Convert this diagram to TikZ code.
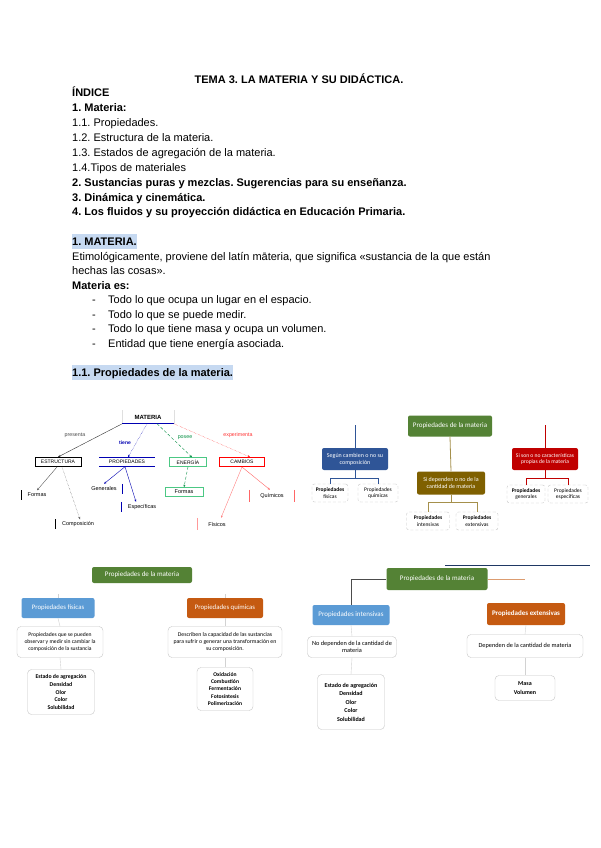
\documentclass[tikz,border=0pt]{standalone}
\usepackage{fontspec}
\setmainfont{Liberation Sans}
\newfontfamily\calfont{Carlito}
\usetikzlibrary{arrows.meta}
\frenchspacing
\definecolor{hl}{HTML}{C6D9F1}
\definecolor{grn}{HTML}{548235}
\definecolor{dblue}{HTML}{2F5597}
\definecolor{olive}{HTML}{7F6000}
\definecolor{dred}{HTML}{C00000}
\definecolor{lblue}{HTML}{5B9BD5}
\definecolor{orng}{HTML}{C55A11}
\definecolor{lgreen}{HTML}{00B050}
\definecolor{navy}{HTML}{1F3864}
\tikzset{
  txt/.style={anchor=base west, inner sep=0pt, font=\fontsize{11}{13}\selectfont},
  btxt/.style={txt, font=\bfseries\fontsize{11}{13}\selectfont},
  done/.style={inner sep=0pt, font=\fontsize{5}{6}\selectfont, fill=white},
  dkid/.style={inner sep=0pt, font=\fontsize{5.5}{6}\selectfont, fill=white},
  dlab/.style={inner sep=0pt, font=\fontsize{5.3}{6}\selectfont},
  cbox/.style={inner sep=1pt, rounded corners=2pt, text=white, align=center, font=\calfont\fontsize{6}{7}\selectfont},
  wbox/.style={inner sep=1pt, rounded corners=2.5pt, draw=gray!45, densely dashed, fill=white, align=center, font=\calfont\fontsize{5.5}{6.5}\selectfont},
  tbox/.style={inner sep=1pt, rounded corners=4pt, draw=gray!45, fill=white, align=center, font=\calfont\fontsize{6}{7}\selectfont},
  lbox/.style={inner sep=1pt, rounded corners=4pt, draw=gray!45, fill=white, align=center, font=\calfont\bfseries\fontsize{5.8}{7.6}\selectfont},
  arr/.style={-{Stealth[length=2.5pt,width=2pt]}, line width=0.4pt},
  faint/.style={draw=gray!35, line width=0.4pt},
}
\begin{document}
\begin{tikzpicture}[x=1pt,y=-1pt]
\useasboundingbox[fill=white] (0,0) rectangle (600,848);

% ---------------- header text ----------------
\node[anchor=base, inner sep=0pt, font=\bfseries\fontsize{11}{13}\selectfont] (title) at (299,84) {TEMA 3. LA MATERIA Y SU DIDÁCTICA.};
\node[btxt] (indice) at (72,97) {ÍNDICE};
\node[btxt] (l1) at (72,112) {1. Materia:};
\node[txt] (l11) at (72,126) {1.1. Propiedades.};
\node[txt] (l12) at (72,141) {1.2. Estructura de la materia.};
\node[txt] (l13) at (72,156) {1.3. Estados de agregación de la materia.};
\node[txt] (l14) at (72,171) {1.4.Tipos de materiales};
\node[btxt] (l2) at (72,186) {2. Sustancias puras y mezclas. Sugerencias para su enseñanza.};
\node[btxt] (l3) at (72,201) {3. Dinámica y cinemática.};
\node[btxt] (l4) at (72,215) {4. Los fluidos y su proyección didáctica en Educación Primaria.};

\fill[hl] (72,234) rectangle (137,249);
\node[btxt] (h1) at (72,245) {1. MATERIA.};
\node[txt] (p1) at (72,260) {Etimológicamente, proviene del latín māteria, que significa «sustancia de la que están};
\node[txt] (p2) at (72,274) {hechas las cosas».};
\node[btxt] (mes) at (72,289) {Materia es:};
\foreach \yy/\tt [count=\i] in {303/Todo lo que ocupa un lugar en el espacio.,318/Todo lo que se puede medir.,332/Todo lo que tiene masa y ocupa un volumen.,347/Entidad que tiene energía asociada.}{
  \node[txt] (dash\i) at (92,\yy) {-};
  \node[txt] (b\i) at (108,\yy) {\tt};
}
\fill[hl] (72,365) rectangle (233,380);
\node[btxt] (h11) at (72,376) {1.1. Propiedades de la materia.};

% ---------------- diagram 1 (top left) ----------------
\node[done, minimum width=51pt, minimum height=13pt, font=\bfseries\fontsize{6}{7}\selectfont] (mat) at (148,417) {MATERIA};
\draw[gray!25] (mat.north west) -- (mat.south west) (mat.north east) -- (mat.south east);
\draw[blue!70!black, line width=0.7pt] (mat.south west) -- (mat.south east);

\node[done, draw=black, line width=1pt, minimum width=46pt, minimum height=9pt] (estr) at (58,462) {ESTRUCTURA};
\node[done, minimum width=55pt, minimum height=9pt] (prop) at (127,462) {PROPIEDADES};
\draw[blue!70!black, line width=0.7pt] (prop.north west) -- (prop.north east) (prop.south west) -- (prop.south east);
\node[done, draw=lgreen!70, line width=0.5pt, minimum width=37pt, minimum height=9pt] (ener) at (188,462) {ENERGÍA};
\node[done, draw=red, line width=1pt, minimum width=45pt, minimum height=9pt] (camb) at (242,462) {CAMBIOS};

\node[dkid, minimum width=30pt, minimum height=9pt] (formas) at (37,495) {Formas};
\draw[line width=1pt] (formas.north west) -- (formas.south west);
\node[dkid, minimum width=44pt, minimum height=9pt] (comp) at (78,524) {Composición};
\draw[line width=1pt] (comp.north west) -- (comp.south west);
\node[dkid, minimum width=36pt, minimum height=10pt] (gen) at (104,489) {Generales};
\draw[blue!70!black, line width=0.8pt] (gen.north east) -- (gen.south east);
\node[dkid, minimum width=40pt, minimum height=10pt] (esp) at (142,507) {Específicas};
\draw[blue!70!black, line width=0.8pt] (esp.north west) -- (esp.south west);
\node[dkid, draw=lgreen!70, line width=0.6pt, minimum width=38pt, minimum height=9pt] (fuen) at (184,492) {Formas};
\node[dkid, minimum width=45pt, minimum height=12pt] (quim) at (272,496) {Químicos};
\draw[red!60, line width=0.8pt] (quim.north west) -- (quim.south west) (quim.north east) -- (quim.south east);
\node[dkid, minimum width=38pt, minimum height=12pt] (fis) at (217,524) {Físicos};
\draw[red!40, line width=0.8pt] (fis.north west) -- (fis.south west);

\draw[arr, black!80] (mat.south west) -- (estr.north);
\draw[arr, blue!70!black, densely dotted] ([xshift=-1pt]mat.south) -- ([xshift=1pt]prop.north);
\draw[arr, lgreen!80!black, densely dashed] ([xshift=9pt]mat.south) -- ([xshift=4pt]ener.north);
\draw[arr, red!80, densely dotted] (mat.south east) -- ([xshift=8pt]camb.north);
\node[dlab, text=black!70] (lpres) at (75,435) {presenta};
\node[dlab, text=blue!70!black, font=\bfseries\fontsize{5}{6}\selectfont] (ltiene) at (125,443) {tiene};
\node[dlab, text=lgreen!80!black] (lposee) at (185,438) {posee};
\node[dlab, text=red!80] (lexp) at (238,435) {experimenta};

\draw[arr, gray!70!black] ([xshift=-1pt]estr.south) -- (formas.north);
\draw[arr, gray!70!black, densely dotted] ([xshift=4pt]estr.south) -- ([xshift=2pt]comp.north);
\draw[arr, blue!70!black] ([xshift=-2pt]prop.south) -- (gen.north);
\draw[arr, blue!70!black] ([xshift=-2pt]prop.south) -- ([xshift=-6pt]esp.north);
\draw[arr, lgreen!80!black, densely dashed] (ener.south) -- (fuen.north);
\draw[arr, red!60] (camb.south) -- ([xshift=-2pt]quim.north);
\draw[arr, red!50] (camb.south) -- ([xshift=4pt]fis.north);

% ---------------- diagram 2 (top right) ----------------
\node[cbox, fill=grn, minimum width=84pt, minimum height=21pt, font=\calfont\fontsize{7}{8}\selectfont] (root2) at (450,426) {Propiedades de la materia};
\node[cbox, fill=dblue, minimum width=66pt, minimum height=22pt] (blue2) at (355,459) {Según cambien o no su\\composición};
\node[cbox, fill=olive, minimum width=68pt, minimum height=23pt] (olive2) at (451,483) {Si dependen o no de la\\cantidad de materia};
\node[cbox, fill=dred, minimum width=66pt, minimum height=22pt, font=\calfont\fontsize{5.6}{6.8}\selectfont] (red2) at (545,459) {Si son o no características\\propias de la materia};
\node[wbox, minimum width=36pt, minimum height=18pt] (pf2) at (330,493) {\textbf{Propiedades}\\físicas};
\node[wbox, minimum width=40pt, minimum height=18pt] (pq2) at (378,493) {Propiedades\\químicas};
\node[wbox, minimum width=43pt, minimum height=18pt] (pi2) at (428,521) {\textbf{Propiedades}\\intensivas};
\node[wbox, minimum width=42pt, minimum height=18pt] (pe2) at (477,521) {\textbf{Propiedades}\\extensivas};
\node[wbox, minimum width=38pt, minimum height=18pt] (pg2) at (526,494) {\textbf{Propiedades}\\generales};
\node[wbox, minimum width=40pt, minimum height=18pt] (ps2) at (568,494) {Propiedades\\específicas};

\coordinate (b2top) at (355,425);
\coordinate (r2top) at (545,425);
\draw[dblue, line width=0.8pt] (blue2.north) -- (b2top);
\draw[dred, line width=0.8pt] (red2.north) -- (r2top);
\draw[olive!70, line width=0.8pt] (root2.south) -- (olive2.north);
\draw[dblue, line width=0.8pt] (blue2.south) -- ++(0,8) coordinate (bf2);
\draw[dblue, line width=0.8pt] (bf2) -| (pf2.north) (bf2) -| (pq2.north);
\draw[olive!70, line width=0.8pt] (olive2.south) -- ++(0,8) coordinate (of2);
\draw[olive!70, line width=0.8pt] (of2) -| (pi2.north) (of2) -| (pe2.north);
\draw[dred, line width=0.8pt] (red2.south) -- ++(0,8) coordinate (rf2);
\draw[dred, line width=0.8pt] (rf2) -| (pg2.north) (rf2) -| (ps2.north);

% ---------------- diagram 3 (bottom left) ----------------
\node[cbox, fill=grn, minimum width=100pt, minimum height=16pt, font=\calfont\fontsize{7}{8}\selectfont] (root3) at (142,575) {Propiedades de la materia};
\node[cbox, fill=lblue, minimum width=73pt, minimum height=20pt, font=\calfont\fontsize{6.8}{8}\selectfont] (fis3) at (58,608) {Propiedades físicas};
\node[tbox, minimum width=86pt, minimum height=31pt, font=\calfont\fontsize{5.6}{6.8}\selectfont] (ftxt3) at (60,642) {Propiedades que se pueden\\observar y medir sin cambiar la\\composición de la sustancia};
\node[lbox, minimum width=67pt, minimum height=45pt] (flist3) at (61,692) {Estado de agregación\\Densidad\\Olor\\Color\\Solubilidad};
\node[cbox, fill=orng, minimum width=76pt, minimum height=20pt, font=\calfont\fontsize{6.8}{8}\selectfont] (qui3) at (225,608) {Propiedades químicas};
\node[tbox, minimum width=114pt, minimum height=31pt, font=\calfont\fontsize{5.8}{7}\selectfont] (qtxt3) at (225,642) {Describen la capacidad de las sustancias\\para sufrir o generar una transformación en\\su composición.};
\node[lbox, minimum width=56pt, minimum height=43pt, font=\calfont\bfseries\fontsize{5.6}{7.4}\selectfont] (qlist3) at (225,689) {Oxidación\\Combustión\\Fermentación\\Fotosíntesis\\Polimerización};
\coordinate (f3top) at (58,594);
\coordinate (q3top) at (225,594);
\draw[faint] (fis3.north) -- (f3top);
\draw[faint] (qui3.north) -- (q3top);
\draw[faint] (fis3.south) -- (ftxt3.north);
\draw[faint] (ftxt3.south) -- (flist3.north);
\draw[faint] (qui3.south) -- (qtxt3.north);
\draw[faint] (qtxt3.south) -- (qlist3.north);

% ---------------- diagram 4 (bottom right) ----------------
\coordinate (nv1) at (445,565);
\coordinate (nv2) at (590,565);
\draw[navy, line width=0.8pt] (nv1) -- (nv2);
\node[cbox, fill=grn, minimum width=101pt, minimum height=22pt, font=\calfont\fontsize{7}{8}\selectfont] (root4) at (437,579) {Propiedades de la materia};
\node[cbox, fill=lblue, minimum width=77pt, minimum height=20pt, font=\calfont\fontsize{7}{8}\selectfont] (int4) at (351,615) {Propiedades intensivas};
\node[tbox, minimum width=89pt, minimum height=21pt, font=\calfont\fontsize{6.3}{7.5}\selectfont] (itxt4) at (352,647) {No dependen de la cantidad de\\materia};
\node[lbox, minimum width=67pt, minimum height=55pt, font=\calfont\bfseries\fontsize{6}{8.5}\selectfont] (ilist4) at (351,702) {Estado de agregación\\Densidad\\Olor\\Color\\Solubilidad};
\node[cbox, fill=orng, minimum width=78pt, minimum height=22pt, font=\calfont\bfseries\fontsize{7}{8}\selectfont] (ext4) at (526,614) {Propiedades extensivas};
\node[tbox, minimum width=116pt, minimum height=23pt, font=\calfont\fontsize{6.3}{7.5}\selectfont] (etxt4) at (525,646) {Dependen de la cantidad de materia};
\node[lbox, minimum width=60pt, minimum height=25pt, font=\calfont\bfseries\fontsize{6}{8.5}\selectfont] (elist4) at (525,688) {Masa\\Volumen};
\coordinate (o4end) at (525,579);
\draw[gray!60!black, line width=0.6pt] (root4.west) -| (int4.north);
\draw[orng!60, line width=0.6pt] (root4.east) -- (o4end);
\draw[faint] (int4.south) -- (itxt4.north);
\draw[faint] (itxt4.south) -- (ilist4.north);
\draw[faint] (ext4.south) -- (etxt4.north);
\draw[faint] (etxt4.south) -- (elist4.north);
\end{tikzpicture}
\end{document}
